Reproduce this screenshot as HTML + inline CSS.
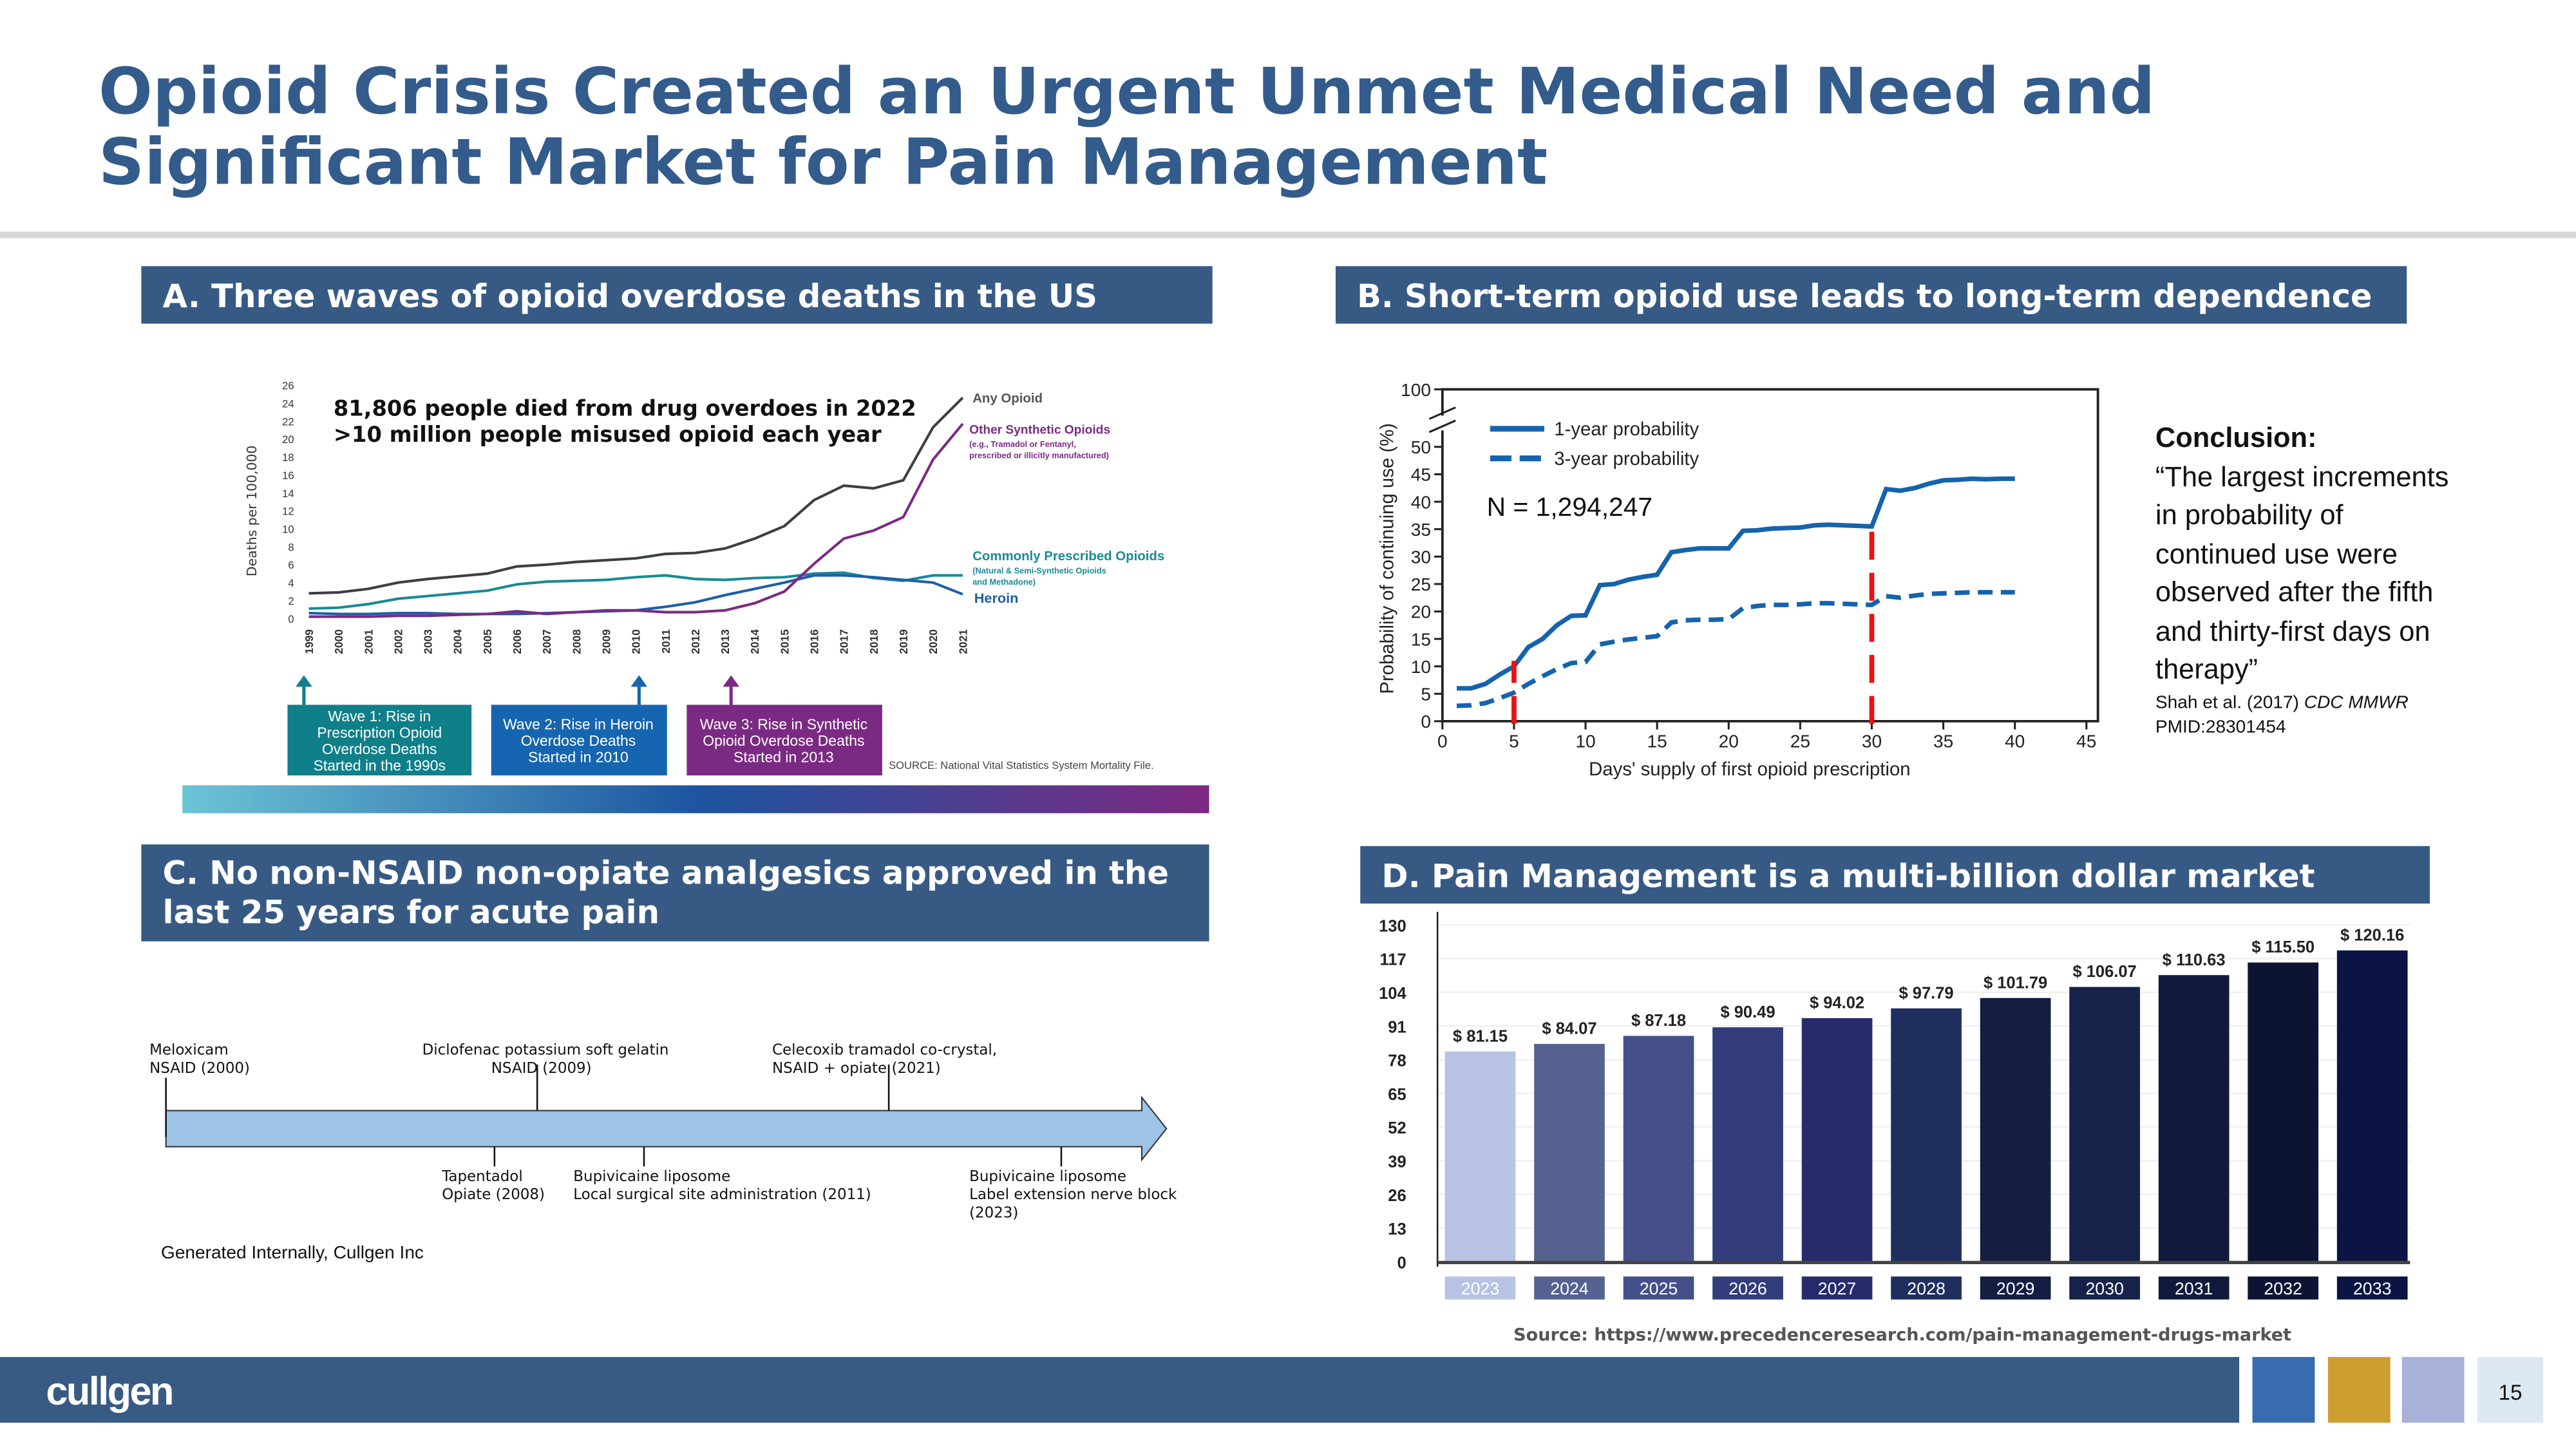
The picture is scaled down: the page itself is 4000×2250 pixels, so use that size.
<!DOCTYPE html>
<html><head><meta charset="utf-8"><style>
html,body{margin:0;padding:0;background:#fff;width:4000px;height:2250px;overflow:hidden}
svg{display:block}
text{font-family:"Liberation Sans",sans-serif}
.hd{font-family:"DejaVu Sans",sans-serif;font-weight:bold;fill:#fff}
.dj,.dj text{font-family:"DejaVu Sans",sans-serif}
</style></head><body>
<svg id="root" width="4000" height="2250" viewBox="0 0 1568 882" xmlns="http://www.w3.org/2000/svg">
<defs>
<linearGradient id="wg" x1="0" x2="1" y1="0" y2="0"><stop offset="0" stop-color="#6cc4d6"/><stop offset="0.5" stop-color="#1d55a0"/><stop offset="1" stop-color="#7d2981"/></linearGradient>
</defs>
<g>
<text x="60" y="69" class="dj" font-weight="bold" font-size="38.7" fill="#335b8b">Opioid Crisis Created an Urgent Unmet Medical Need and</text>
<text x="60" y="112" class="dj" font-weight="bold" font-size="38.7" fill="#335b8b">Significant Market for Pain Management</text>
</g>
<rect x="0" y="141" width="1568" height="4" fill="#d9d9d9"/>

<g><rect x="86" y="162" width="652" height="35" fill="#375a85"/><text x="99" y="187" class="hd" font-size="19.5">A. Three waves of opioid overdose deaths in the US</text></g>
<g><rect x="813" y="162" width="652" height="35" fill="#375a85"/><text x="826" y="187" class="hd" font-size="19.4">B. Short-term opioid use leads to long-term dependence</text></g>
<g><rect x="86" y="514" width="650" height="59" fill="#375a85"/><text x="99" y="538" class="hd" font-size="19.5">C. No non-NSAID non-opiate analgesics approved in the</text><text x="99" y="562" class="hd" font-size="19.5">last 25 years for acute pain</text></g>
<g><rect x="828" y="515" width="651" height="35" fill="#375a85"/><text x="841" y="540" class="hd" font-size="19.5">D. Pain Management is a multi-billion dollar market</text></g>

<g id="chartA"></g>
<text x="203" y="253" class="dj" font-weight="bold" font-size="13.2" fill="#111">81,806 people died from drug overdoes in 2022</text>
<text x="203" y="269" class="dj" font-weight="bold" font-size="13.2" fill="#111">&gt;10 million people misused opioid each year</text>
<text transform="translate(156,311) rotate(-90)" text-anchor="middle" class="dj" font-size="8" fill="#333">Deaths per 100,000</text>
<g font-weight="bold">
<text x="592" y="245" font-size="8" fill="#555">Any Opioid</text>
<text x="590" y="264" font-size="7.5" fill="#7b2a83">Other Synthetic Opioids</text>
<text x="590" y="272" font-size="5" fill="#7b2a83">(e.g., Tramadol or Fentanyl,</text>
<text x="590" y="279" font-size="5" fill="#7b2a83">prescribed or illicitly manufactured)</text>
<text x="592" y="341" font-size="8" fill="#1a8a93">Commonly Prescribed Opioids</text>
<text x="592" y="349" font-size="5" fill="#1a8a93">(Natural &amp; Semi-Synthetic Opioids</text>
<text x="592" y="356" font-size="5" fill="#1a8a93">and Methadone)</text>
<text x="593" y="367" font-size="8.5" fill="#1d5fa8">Heroin</text>
</g>
<g><line x1="185" y1="429" x2="185" y2="416" stroke="#0f7f8a" stroke-width="2"/><polygon points="180,418 185,411 190,418" fill="#0f7f8a"/><rect x="175" y="429" width="112" height="43" fill="#0f7f8a"/><g font-size="9" fill="#fff" text-anchor="middle"><text x="231" y="439">Wave 1: Rise in</text><text x="231" y="449">Prescription Opioid</text><text x="231" y="459">Overdose Deaths</text><text x="231" y="469">Started in the 1990s</text></g></g>
<g><line x1="389" y1="429" x2="389" y2="416" stroke="#1565b0" stroke-width="2"/><polygon points="384,418 389,411 394,418" fill="#1565b0"/><rect x="299" y="429" width="107" height="43" fill="#1565b0"/><g font-size="9" fill="#fff" text-anchor="middle"><text x="352" y="444">Wave 2: Rise in Heroin</text><text x="352" y="454">Overdose Deaths</text><text x="352" y="464">Started in 2010</text></g></g>
<g><line x1="445" y1="429" x2="445" y2="416" stroke="#7b2a83" stroke-width="2"/><polygon points="440,418 445,411 450,418" fill="#7b2a83"/><rect x="418" y="429" width="119" height="43" fill="#7b2a83"/><g font-size="9" fill="#fff" text-anchor="middle"><text x="477" y="444">Wave 3: Rise in Synthetic</text><text x="477" y="454">Opioid Overdose Deaths</text><text x="477" y="464">Started in 2013</text></g></g>
<text x="541" y="468" font-size="6.5" fill="#444">SOURCE: National Vital Statistics System Mortality File.</text>
<rect x="111" y="478" width="625" height="17" fill="url(#wg)"/>

<g id="chartB"></g>
<g font-size="17" fill="#111">
<text x="1312" y="272" font-weight="bold">Conclusion:</text>
<text x="1312" y="296">“The largest increments</text>
<text x="1312" y="319">in probability of</text>
<text x="1312" y="343">continued use were</text>
<text x="1312" y="366">observed after the fifth</text>
<text x="1312" y="390">and thirty-first days on</text>
<text x="1312" y="413">therapy”</text>
<text x="1312" y="431" font-size="11">Shah et al. (2017) <tspan font-style="italic">CDC MMWR</tspan></text>
<text x="1312" y="446" font-size="11">PMID:28301454</text>
</g>

<g>
<polygon points="101,676 695,676 695,668 710,687 695,706 695,698 101,698" fill="#9dc3e6" stroke="#333" stroke-width="0.8"/>
<g stroke="#111" stroke-width="1">
<line x1="101" y1="656" x2="101" y2="692"/><line x1="327" y1="648" x2="327" y2="676"/><line x1="541" y1="648" x2="541" y2="676"/>
<line x1="301" y1="698" x2="301" y2="710"/><line x1="392" y1="698" x2="392" y2="710"/><line x1="646" y1="698" x2="646" y2="710"/>
</g>
<g class="dj" font-size="9" fill="#111">
<text x="91" y="642">Meloxicam</text><text x="91" y="653">NSAID (2000)</text>
<text x="257" y="642">Diclofenac potassium soft gelatin</text><text x="299" y="653">NSAID (2009)</text>
<text x="470" y="642">Celecoxib tramadol co-crystal,</text><text x="470" y="653">NSAID + opiate (2021)</text>
<text x="269" y="719">Tapentadol</text><text x="269" y="730">Opiate (2008)</text>
<text x="349" y="719">Bupivicaine liposome</text><text x="349" y="730">Local surgical site administration (2011)</text>
<text x="590" y="719">Bupivicaine liposome</text><text x="590" y="730">Label extension nerve block</text><text x="590" y="741">(2023)</text>
</g>
<text x="98" y="766" font-size="11" fill="#111">Generated Internally, Cullgen Inc</text>
</g>

<g id="chartD"></g>
<text x="1158" y="816" text-anchor="middle" class="dj" font-weight="bold" font-size="10.6" fill="#555">Source: https://www.precedenceresearch.com/pain-management-drugs-market</text>

<g>
<rect x="0" y="826" width="1363" height="40" fill="#375b84"/>
<text x="28" y="855" font-size="24" font-weight="bold" fill="#fff" letter-spacing="-1">cullgen</text>
<rect x="1371" y="826" width="38" height="40" fill="#386bb0"/>
<rect x="1417" y="826" width="38" height="40" fill="#cd9f2e"/>
<rect x="1462" y="826" width="38" height="40" fill="#a8b1da"/>
<rect x="1508" y="826" width="40" height="40" fill="#dde8f2"/>
<text x="1528" y="852" text-anchor="middle" font-size="13" fill="#111">15</text>
</g>
</svg>
<script>
const NS="http://www.w3.org/2000/svg";
const yearsA=[1999,2000,2001,2002,2003,2004,2005,2006,2007,2008,2009,2010,2011,2012,2013,2014,2015,2016,2017,2018,2019,2020,2021];
const anyOpioid=[2.9,3.0,3.4,4.1,4.5,4.8,5.1,5.9,6.1,6.4,6.6,6.8,7.3,7.4,7.9,9.0,10.4,13.3,14.9,14.6,15.5,21.4,24.7];
const synthetic=[0.3,0.3,0.3,0.4,0.4,0.5,0.6,0.9,0.6,0.8,1.0,1.0,0.8,0.8,1.0,1.8,3.1,6.2,9.0,9.9,11.4,17.8,21.8];
const prescribed=[1.2,1.3,1.7,2.3,2.6,2.9,3.2,3.9,4.2,4.3,4.4,4.7,4.9,4.5,4.4,4.6,4.7,5.1,5.2,4.6,4.3,4.9,4.9];
const heroin=[0.7,0.6,0.6,0.7,0.7,0.6,0.6,0.6,0.7,0.8,0.9,1.0,1.4,1.9,2.7,3.4,4.1,4.9,4.9,4.7,4.4,4.1,2.8];
const ticksA=[0,2,4,6,8,10,12,14,16,18,20,22,24,26];
const daysB=[1,2,3,4,5,6,7,8,9,10,11,12,13,14,15,16,17,18,19,20,21,22,23,24,25,26,27,28,29,30,31,32,33,34,35,36,37,38,39,40];
const oneYear=[6,6,6.8,8.5,10,13.5,15,17.5,19.2,19.3,24.8,25,25.8,26.3,26.7,30.8,31.2,31.5,31.5,31.5,34.7,34.8,35.1,35.2,35.3,35.7,35.8,35.7,35.6,35.5,42.3,42.0,42.5,43.3,43.9,44.0,44.2,44.1,44.2,44.2];
const threeYear=[2.8,2.9,3.3,4.2,5.2,6.8,8.2,9.5,10.6,10.8,14.0,14.5,14.9,15.2,15.5,18.0,18.4,18.5,18.5,18.6,20.6,21.0,21.2,21.2,21.3,21.5,21.5,21.4,21.3,21.2,22.8,22.5,22.9,23.2,23.3,23.4,23.5,23.5,23.5,23.5];
const xTicksB=[0,5,10,15,20,25,30,35,40,45];
const yTicksB=[0,5,10,15,20,25,30,35,40,45,50];
const markerDays=[5,30];
const markerTops=[11,36];
const yearsD=["2023","2024","2025","2026","2027","2028","2029","2030","2031","2032","2033"];
const market=[81.15,84.07,87.18,90.49,94.02,97.79,101.79,106.07,110.63,115.50,120.16];
const ticksD=[0,13,26,39,52,65,78,91,104,117,130];

function mk(parent,tag,attrs,txt){const e=document.createElementNS(NS,tag);for(const k in attrs)e.setAttribute(k,attrs[k]);if(txt!==undefined)e.textContent=txt;parent.appendChild(e);return e;}

(function(){
const g=document.getElementById('chartA');
const xA=i=>188+i*(586-188)/(yearsA.length-1);
const yA=v=>377-v*(377-235)/26;
ticksA.forEach(t=>{const e=mk(g,'text',{x:179,y:yA(t)+2,'text-anchor':'end','font-size':6.5,fill:'#333'},t);

});
yearsA.forEach((yr,i)=>{const e=mk(g,'text',{transform:`translate(${xA(i)+2.5},383) rotate(-90)`,'text-anchor':'end','font-size':6.8,'font-weight':'bold',fill:'#333'},yr);

});
const series=[[prescribed,'#1a8a93','line-prescribed'],[heroin,'#1d5fa8','line-heroin'],[synthetic,'#7b2a83','line-synthetic'],[anyOpioid,'#3c3f44','line-any-opioid']];
series.forEach(([d,c,n])=>{const p=mk(g,'polyline',{points:d.map((v,i)=>xA(i)+','+yA(v)).join(' '),fill:'none',stroke:c,'stroke-width':1.6});

});
})();

(function(){
const g=document.getElementById('chartB');
const xB=d=>878+d*(1270-878)/45;
const yB=v=>439-v*(439-272)/50;
const box=mk(g,'path',{d:'M878,253 L878,237 L1277,237 L1277,439 L878,439 L878,262',fill:'none',stroke:'#222','stroke-width':1.5});


mk(g,'line',{x1:870,y1:255,x2:886,y2:248,stroke:'#222','stroke-width':1.2});
mk(g,'line',{x1:870,y1:263,x2:886,y2:256,stroke:'#222','stroke-width':1.2});
mk(g,'line',{x1:873,y1:237,x2:878,y2:237,stroke:'#222','stroke-width':1.2});
mk(g,'text',{x:871,y:241,'text-anchor':'end','font-size':11,fill:'#222'},'100');
yTicksB.forEach(t=>{mk(g,'line',{x1:873,y1:yB(t),x2:878,y2:yB(t),stroke:'#222','stroke-width':1.2});
const e=mk(g,'text',{x:871,y:yB(t)+4,'text-anchor':'end','font-size':11,fill:'#222'},t);

});
xTicksB.forEach(t=>{mk(g,'line',{x1:xB(t),y1:439,x2:xB(t),y2:444,stroke:'#222','stroke-width':1.2});
const e=mk(g,'text',{x:xB(t),y:455,'text-anchor':'middle','font-size':11,fill:'#222'},t);

});
const l1=mk(g,'polyline',{points:daysB.map((d,i)=>xB(d)+','+yB(oneYear[i])).join(' '),fill:'none',stroke:'#1563ad','stroke-width':2.8});


const l3=mk(g,'polyline',{points:daysB.map((d,i)=>xB(d)+','+yB(threeYear[i])).join(' '),fill:'none',stroke:'#1563ad','stroke-width':2.8,'stroke-dasharray':'9,5'});


markerDays.forEach((d,i)=>{const e=mk(g,'line',{x1:xB(d),y1:yB(-0.5),x2:xB(d),y2:yB(markerTops[i]),stroke:'#ee1111','stroke-width':3,'stroke-dasharray':'17,8'});

});
mk(g,'line',{x1:907,y1:261,x2:940,y2:261,stroke:'#1563ad','stroke-width':3.5});
mk(g,'line',{x1:907,y1:279,x2:940,y2:279,stroke:'#1563ad','stroke-width':3.5,'stroke-dasharray':'13,5'});
mk(g,'text',{x:946,y:265,'font-size':11.5,fill:'#222'},'1-year probability');
mk(g,'text',{x:946,y:283,'font-size':11.5,fill:'#222'},'3-year probability');
mk(g,'text',{x:905,y:314,'font-size':16,fill:'#111'},'N = 1,294,247');
mk(g,'text',{transform:'translate(848,340) rotate(-90)','text-anchor':'middle','font-size':11.5,fill:'#222'},'Probability of continuing use (%)');
mk(g,'text',{x:1065,y:472,'text-anchor':'middle','font-size':11.5,fill:'#222'},"Days' supply of first opioid prescription");
})();

(function(){
const g=document.getElementById('chartD');
const yD=v=>768-v*(768-563)/130;
const xD=i=>901+i*(1444-901)/(yearsD.length-1);
const bw=43;
const cols=['#b8c3e4','#55628f','#45508a','#333d7c','#262c6b','#1f2e5e','#141d42','#16224a','#101a3d','#0d1433','#0b1442'];
ticksD.forEach(t=>{mk(g,'line',{x1:875,y1:yD(t),x2:1467,y2:yD(t),stroke:'#f0f0f0','stroke-width':1});
const e=mk(g,'text',{x:856,y:yD(t)+4,'text-anchor':'end','font-size':10,'font-weight':'bold',fill:'#222'},t);

});
mk(g,'line',{x1:875,y1:555,x2:875,y2:771,stroke:'#222','stroke-width':1});
market.forEach((v,i)=>{const r=mk(g,'rect',{x:xD(i)-bw/2,y:yD(v),width:bw,height:768-yD(v),fill:cols[i]});


const t=mk(g,'text',{x:xD(i),y:yD(v)-6,'text-anchor':'middle','font-size':10,'font-weight':'bold',fill:'#222'},'$ '+v.toFixed(2));


mk(g,'rect',{x:xD(i)-bw/2,y:777,width:bw,height:14,fill:cols[i]});
const y=mk(g,'text',{x:xD(i),y:788,'text-anchor':'middle','font-size':10.5,fill:'#fff'},yearsD[i]);

});
mk(g,'line',{x1:875,y1:768.5,x2:1467,y2:768.5,stroke:'#444','stroke-width':2});
})();
</script>
</body></html>
